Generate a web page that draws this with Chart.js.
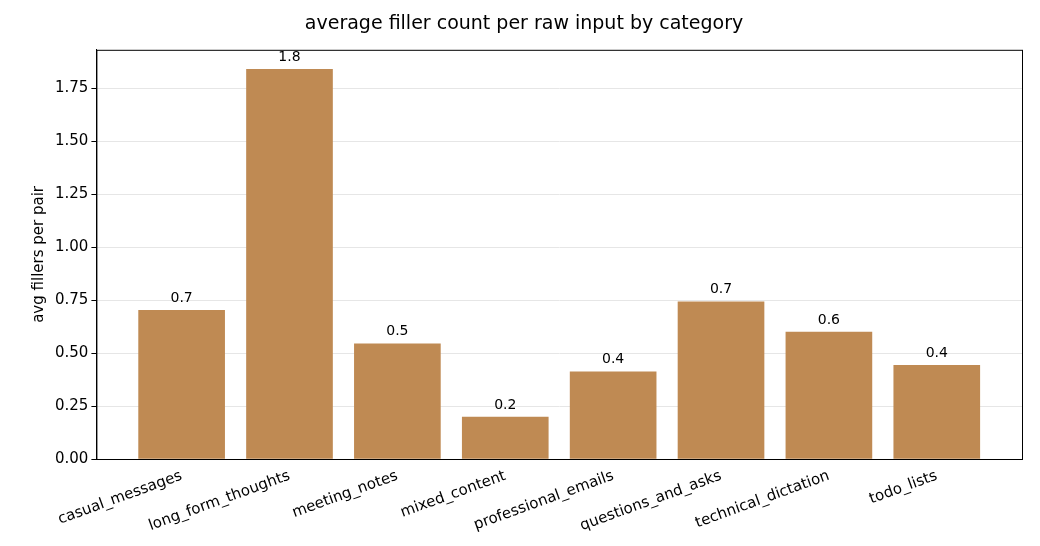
<!DOCTYPE html>
<html><head><meta charset="utf-8">
<script src="https://cdn.jsdelivr.net/npm/chart.js@4"></script>
<style>html,body{margin:0;padding:0;background:#fff}#w{width:1040px;height:546px}</style>
</head><body><div id="w"><canvas id="c"></canvas></div>
<script>
const categories = ["casual_messages","long_form_thoughts","meeting_notes","mixed_content","professional_emails","questions_and_asks","technical_dictation","todo_lists"];
const values = [0.702,1.841,0.544,0.198,0.412,0.743,0.600,0.443];
const yTicks = [0,0.25,0.5,0.75,1.0,1.25,1.5,1.75];

const labelPlugin = {
  id:'lbl',
  afterDatasetsDraw(chart){
    const ctx=chart.ctx, meta=chart.getDatasetMeta(0);
    ctx.save();ctx.font='14px "DejaVu Sans"';ctx.fillStyle='#000';ctx.textAlign='center';ctx.textBaseline='bottom';
    meta.data.forEach((b,i)=>ctx.fillText(values[i].toFixed(1),b.x,b.y-5));
    ctx.restore();
  }
};
const boxPlugin = {id:'box',afterDraw(c){const a=c.chartArea,x=c.ctx;x.save();x.strokeStyle='#000';x.lineWidth=1;x.strokeRect(a.left+0.5,a.top+0.5,a.right-a.left,a.bottom-a.top);x.restore();}};
new Chart(document.getElementById('c'),{
  type:'bar',
  data:{datasets:[{data:values.map((v,i)=>({x:i,y:v})),backgroundColor:'#bf8a53',barThickness:86,borderWidth:0}]},
  plugins:[labelPlugin,boxPlugin],
  options:{
    responsive:true,maintainAspectRatio:false,animation:false,
    layout:{padding:{left:26,right:18,top:5,bottom:8}},
    plugins:{legend:{display:false},tooltip:{enabled:false},
      title:{display:true,text:'average filler count per raw input by category',color:'#000',font:{family:'DejaVu Sans',size:19,weight:'normal'},padding:{top:8,bottom:14}}},
    scales:{
      x:{type:'linear',min:-0.79,max:7.79,offset:false,grid:{display:false,drawTicks:true,tickColor:'#000',tickLength:5},border:{color:'#000'},
        afterBuildTicks(ax){ax.ticks=categories.map((c,i)=>({value:i}));},
        ticks:{color:'#000',font:{family:'DejaVu Sans',size:15},maxRotation:20,minRotation:20,autoSkip:false,callback:v=>categories[v]}},
      y:{min:0,max:1.933,border:{color:'#000'},
        grid:{color:'#e6e6e6',tickColor:'#000',tickLength:5},
        afterBuildTicks(ax){ax.ticks=yTicks.map(v=>({value:v}));},
        ticks:{color:'#000',font:{family:'DejaVu Sans',size:15},callback:v=>v.toFixed(2)},
        title:{display:true,text:'avg fillers per pair',color:'#000',font:{family:'DejaVu Sans',size:15}}}
    }
  }
});
</script></body></html>
